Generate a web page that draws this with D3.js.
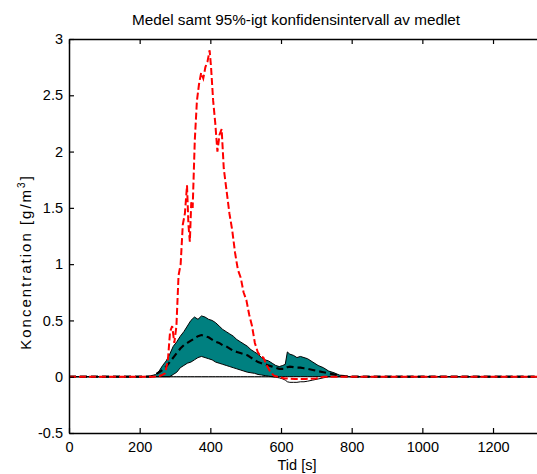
<!DOCTYPE html>
<html>
<head>
<meta charset="utf-8">
<script src="https://cdn.jsdelivr.net/npm/d3@7/dist/d3.min.js"></script>
<style>
  html, body { margin: 0; padding: 0; background: #fff; }
  svg { display: block; overflow: hidden; }
  text { font-family: "Liberation Sans", Arial, Helvetica, sans-serif; fill: #000; }
</style>
</head>
<body>
<svg id="chart"></svg>
<script>
// time points of the confidence band and the mean (s)
const bandTime = [0, 200, 230, 245, 255, 265, 275, 285, 295, 305, 315, 325, 335, 345, 355,
  365, 375, 385, 395, 405, 415, 425, 435, 445, 455, 465, 475, 485, 495, 505,
  515, 525, 535, 545, 555, 565, 575, 585, 595, 605, 612, 618, 625, 635, 645,
  655, 665, 675, 690, 705, 720, 735, 750, 765, 780, 800, 1400];

// upper 95% limit
const upperValues = [0, 0, 0.005, 0.02, 0.05, 0.10, 0.14, 0.20, 0.27, 0.31,
  0.36, 0.40, 0.45, 0.50, 0.53, 0.51, 0.54, 0.53, 0.51, 0.50,
  0.48, 0.45, 0.42, 0.40, 0.38, 0.36, 0.33, 0.31, 0.29, 0.27,
  0.24, 0.22, 0.20, 0.17, 0.15, 0.14, 0.12, 0.10, 0.09, 0.10,
  0.11, 0.22, 0.20, 0.19, 0.17, 0.18, 0.17, 0.16, 0.13, 0.10,
  0.08, 0.05, 0.035, 0.015, 0.005, 0, 0];

// mean
const meanValues = [0, 0, 0, 0.02, 0.04, 0.06, 0.09, 0.13, 0.17, 0.21,
  0.25, 0.28, 0.30, 0.32, 0.34, 0.36, 0.37, 0.36, 0.35, 0.33,
  0.31, 0.30, 0.28, 0.27, 0.25, 0.23, 0.22, 0.21, 0.20, 0.19,
  0.17, 0.15, 0.13, 0.12, 0.11, 0.10, 0.09, 0.08, 0.07, 0.07,
  0.07, 0.085, 0.09, 0.085, 0.08, 0.08, 0.075, 0.07, 0.06, 0.05,
  0.04, 0.03, 0.02, 0.01, 0.005, 0, 0];

// lower 95% limit
const lowerValues = [0, 0, 0, 0, 0, 0, 0, 0, 0.02, 0.04,
  0.08, 0.10, 0.12, 0.13, 0.15, 0.17, 0.18, 0.17, 0.16, 0.15,
  0.13, 0.12, 0.11, 0.10, 0.09, 0.08, 0.07, 0.06, 0.05, 0.04,
  0.035, 0.03, 0.02, 0.015, 0.01, 0.005, 0, -0.005, -0.01, -0.02,
  -0.03, -0.045, -0.05, -0.05, -0.05, -0.045, -0.045, -0.04, -0.03, -0.02,
  -0.01, 0, 0, 0, 0, 0, 0];

// red dashed series
const redTime = [0, 240, 260, 272, 280, 286, 292, 298, 304, 310, 316, 322, 328, 334, 338,
  342, 346, 350, 356, 362, 368, 374, 380, 386, 392, 398, 402, 408, 414, 420,
  426, 432, 438, 446, 454, 462, 470, 478, 486, 494, 502, 510, 518, 526, 534,
  542, 550, 560, 570, 580, 590, 610, 640, 670, 700, 720, 1400];
const redValues = [0, 0, 0.01, 0.03, 0.15, 0.40, 0.45, 0.30, 0.45, 0.90,
  1.00, 1.35, 1.45, 1.70, 1.35, 1.20, 1.55, 1.50, 2.10, 2.45,
  2.60, 2.70, 2.65, 2.75, 2.80, 2.90, 2.75, 2.45, 2.25, 2.00,
  2.15, 2.20, 1.85, 1.65, 1.45, 1.30, 1.10, 0.95, 0.88, 0.75,
  0.68, 0.55, 0.45, 0.30, 0.22, 0.18, 0.17, 0.10, 0.04, 0.01,
  0, -0.015, -0.02, -0.02, -0.015, 0, 0];

const xTicks = [0, 200, 400, 600, 800, 1000, 1200];
const yTicks = [-0.5, 0, 0.5, 1, 1.5, 2, 2.5, 3];

const width = 537, height = 474;
const margin = { top: 39, left: 69, bottom: 41 };
const plotBottom = height - margin.bottom;

const svg = d3.select("#chart").attr("width", width).attr("height", height);

const x = d3.scaleLinear().domain([0, 1400]).range([margin.left, margin.left + 7 * 70.67]);
const y = d3.scaleLinear().domain([-0.5, 3]).range([plotBottom, margin.top]);

svg.append("defs").append("clipPath").attr("id", "plot-clip")
  .append("rect")
  .attr("x", x(0)).attr("y", y(3))
  .attr("width", x(1400) - x(0)).attr("height", y(-0.5) - y(3));

const plot = svg.append("g").attr("clip-path", "url(#plot-clip)");

const band = bandTime.map((t, i) => ({ t, up: upperValues[i], mean: meanValues[i], low: lowerValues[i] }));
const red = redTime.map((t, i) => ({ t, v: redValues[i] }));

// upper limit filled teal from zero
plot.append("path")
  .datum(band)
  .attr("d", d3.area().x(d => x(d.t)).y0(y(0)).y1(d => y(d.up)))
  .attr("fill", "#008080")
  .attr("stroke", "#000")
  .attr("stroke-width", 1);

// lower limit filled white on top
plot.append("path")
  .datum(band)
  .attr("d", d3.area().x(d => x(d.t)).y0(y(0)).y1(d => y(d.low)))
  .attr("fill", "#fff")
  .attr("stroke", "#000")
  .attr("stroke-width", 1);

// mean, black dashed
plot.append("path")
  .datum(band)
  .attr("d", d3.line().x(d => x(d.t)).y(d => y(d.mean)))
  .attr("fill", "none")
  .attr("stroke", "#000")
  .attr("stroke-width", 2.2)
  .attr("stroke-dasharray", "7,4");

// red dashed series
plot.append("path")
  .datum(red)
  .attr("d", d3.line().x(d => x(d.t)).y(d => y(d.v)))
  .attr("fill", "none")
  .attr("stroke", "#ff0000")
  .attr("stroke-width", 2)
  .attr("stroke-dasharray", "7,3");

// axes (MATLAB style, ticks inward, box)
const tickLen = 5;
const fmt = d => String(d);
const xAxisBottom = svg.append("g")
  .attr("transform", `translate(0,${plotBottom})`)
  .call(d3.axisBottom(x).tickValues(xTicks).tickFormat(fmt).tickSizeInner(-tickLen).tickSizeOuter(0).tickPadding(9));
const xAxisTop = svg.append("g")
  .attr("transform", `translate(0,${margin.top})`)
  .call(d3.axisTop(x).tickValues(xTicks).tickSizeInner(-tickLen).tickSizeOuter(0).tickFormat(""));
const yAxisLeft = svg.append("g")
  .attr("transform", `translate(${margin.left},0)`)
  .call(d3.axisLeft(y).tickValues(yTicks).tickFormat(fmt).tickSizeInner(-tickLen).tickSizeOuter(0).tickPadding(6));

[xAxisBottom, xAxisTop, yAxisLeft].forEach(g => {
  g.select(".domain").attr("stroke", "#000").attr("stroke-width", 1.5);
  g.selectAll(".tick line").attr("stroke", "#000").attr("stroke-width", 1.2);
  g.selectAll(".tick text")
    .attr("fill", "#000")
    .style("font-size", "14.5px")
    .style("font-family", "'Liberation Sans', Arial, sans-serif");
});

// title and axis labels
svg.append("text")
  .attr("x", 296).attr("y", 25)
  .attr("text-anchor", "middle")
  .style("font-size", "15.3px")
  .text("Medel samt 95%-igt konfidensintervall av medlet");

svg.append("text")
  .attr("x", 297).attr("y", 470)
  .attr("text-anchor", "middle")
  .style("font-size", "14.5px")
  .text("Tid [s]");

// rotated MATLAB labels come out widely spaced
const yLabel = svg.append("text")
  .attr("transform", "translate(31,262) rotate(-90)")
  .attr("text-anchor", "middle")
  .style("font-size", "15px")
  .style("letter-spacing", "2px");
yLabel.append("tspan").text("Koncentration [g/m");
yLabel.append("tspan").attr("dy", -6).style("font-size", "10px").text("3");
yLabel.append("tspan").attr("dy", 6).text("]");
</script>
</body>
</html>
